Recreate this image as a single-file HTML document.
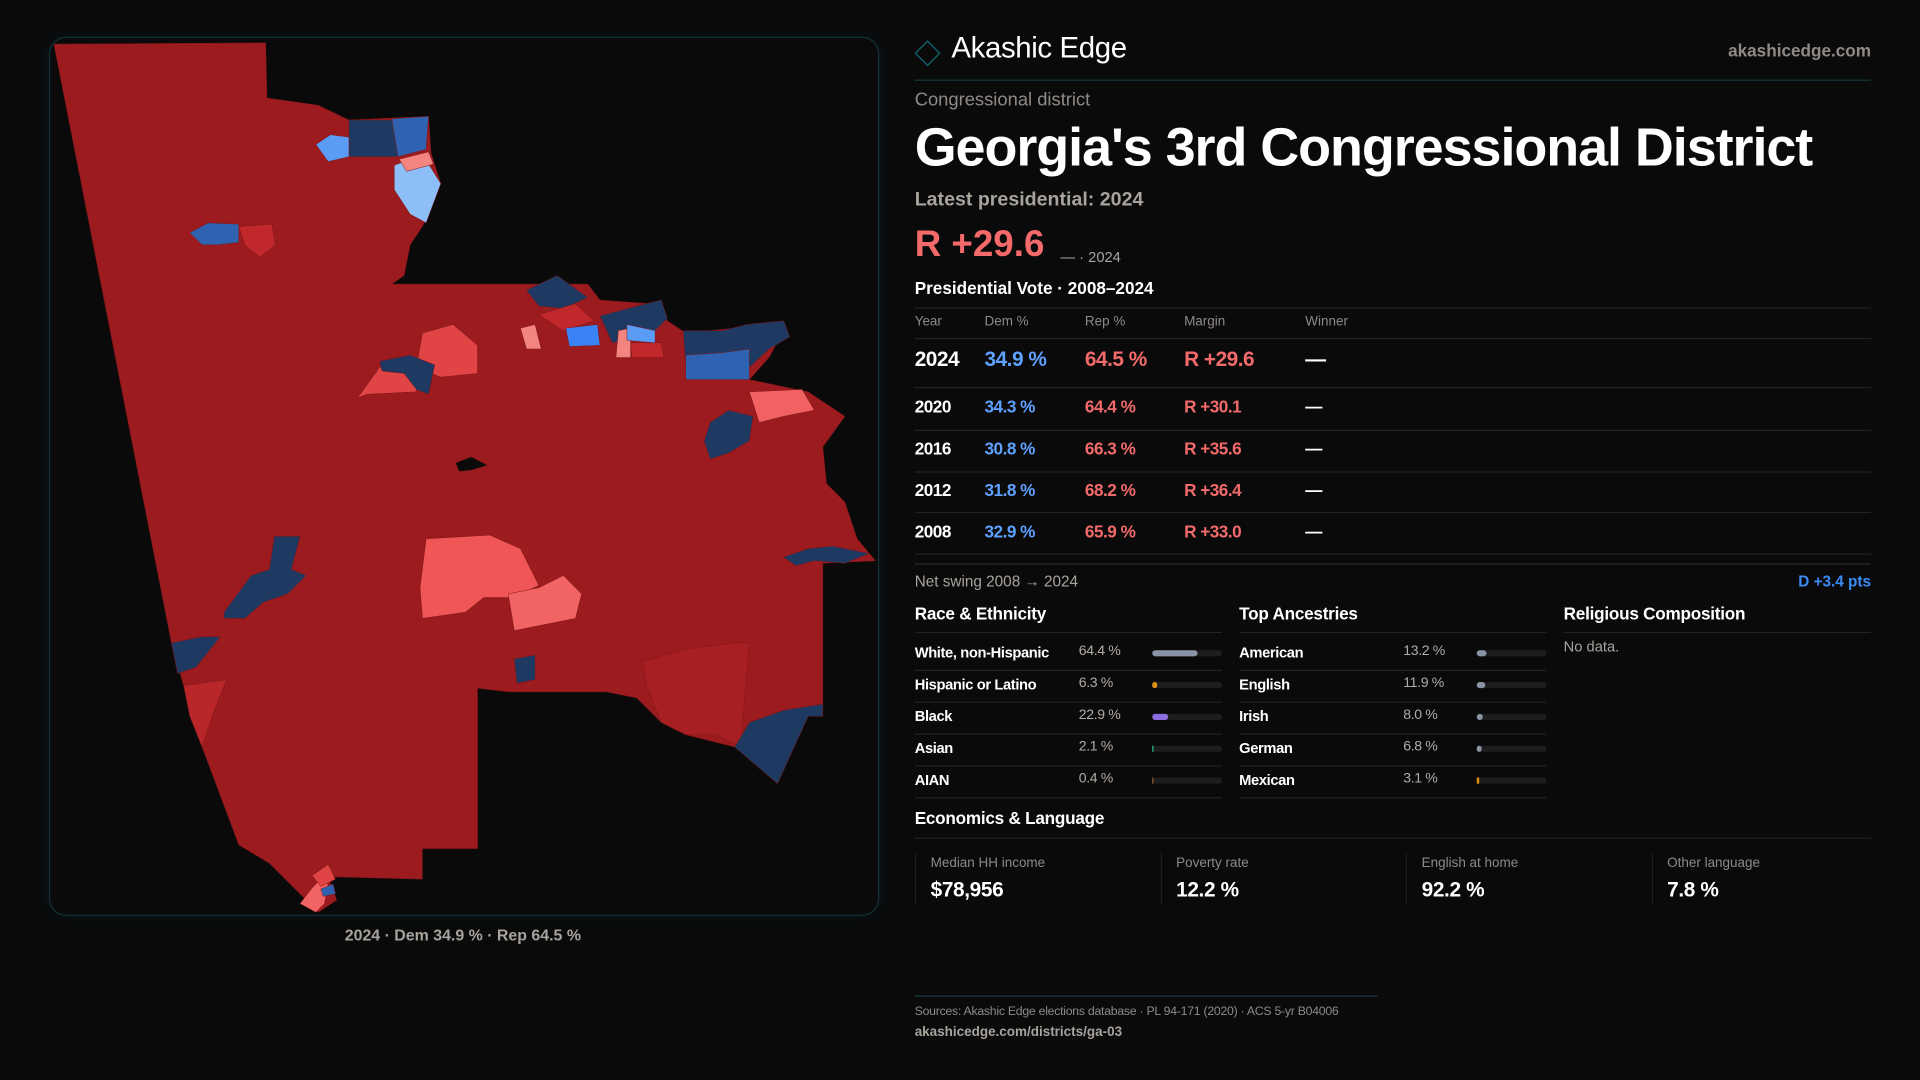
<!DOCTYPE html>
<html><head><meta charset="utf-8">
<style>
html,body{margin:0;padding:0;background:#0a0a0b;width:1920px;height:1080px;overflow:hidden}
#stage{position:absolute;left:0;top:0;width:1568px;height:882px;transform:scale(1.22449);transform-origin:0 0;font-family:"Liberation Sans",sans-serif;color:#fff}
.abs{position:absolute;white-space:nowrap}
.line{position:absolute;height:1px;background:#222226}
.muted{color:#8f8a86}
.blue{color:#5ea1ff}.red{color:#f26a6a}
.hdr{font-size:11px;color:#8f8a86}
.sec{font-size:14px;font-weight:bold;letter-spacing:-0.2px}
.rowlbl{font-size:12px;font-weight:bold;letter-spacing:-0.3px}
.rowpct{font-size:11.5px;color:#b3aca6;letter-spacing:-0.3px}
.track{position:absolute;height:5px;border-radius:3px;background:#1d1d20}
.fill{position:absolute;left:0;top:0;height:5px;border-radius:3px}
</style></head>
<body>
<div id="stage">

<div class="abs" style="left:40px;top:30px;width:676px;height:716px;border:1px solid #12333a;border-radius:14px;box-shadow:0 0 12px rgba(20,90,100,0.15)"></div>
<svg style="position:absolute;left:0;top:0" width="1568" height="882" viewBox="0 0 1568 882">
<g stroke="#7e1518" stroke-width="0.4">
<polygon fill="#9b1b1f" points="44,36 217,35 218,80 260,86 285,98 350,95 352,125 360,150 345,185 335,200 330,225 320,232 480,232 490,245 530,248 545,262 560,272 600,268 640,270 628,292 612,310 660,320 690,340 672,365 675,395 690,410 700,440 715,458 672,460 672,585 660,580 635,640 600,610 560,600 540,590 520,570 495,565 415,565 390,562 390,693 345,693 345,718 268,716 275,735 260,745 245,730 220,705 195,690 180,650 165,610 150,560 140,525"/>
<polygon fill="#1e3a63" points="285,98 322,98 325,128 285,128"/>
<polygon fill="#2f62b0" points="320,97 350,95 348,122 325,128"/>
<polygon fill="#8dbef7" points="322,135 345,126 360,150 348,182 335,175 322,155"/>
<polygon fill="#f4847f" points="326,130 350,124 354,134 332,140"/>
<polygon fill="#5a9cf5" points="258,118 270,110 285,112 285,128 268,132"/>
<polygon fill="#2f62b0" points="155,190 170,182 195,183 195,198 178,200 165,200"/>
<polygon fill="#c0282b" points="195,185 222,183 225,200 212,210 200,200"/>
<polygon fill="#1e3a63" points="430,237 455,225 480,243 460,252 440,250"/>
<polygon fill="#c0282b" points="440,257 470,248 485,262 460,270"/>
<polygon fill="#3b82f6" points="462,268 488,265 490,282 465,283"/>
<polygon fill="#1e3a63" points="490,258 520,250 540,245 545,260 530,275 500,280"/>
<polygon fill="#f4847f" points="425,268 437,265 442,285 430,285"/>
<polygon fill="#f4847f" points="505,270 515,268 515,292 503,292"/>
<polygon fill="#5a9cf5" points="512,265 535,270 535,280 512,278"/>
<polygon fill="#c0282b" points="515,280 540,280 542,292 516,292"/>
<polygon fill="#1e3a63" points="558,270 590,270 610,265 640,262 645,275 628,285 612,300 560,300"/>
<polygon fill="#2f62b0" points="560,290 590,288 612,285 612,310 560,310"/>
<polygon fill="#e04444" points="345,272 370,265 390,282 390,305 360,308 340,300"/>
<polygon fill="#e04444" points="292,325 310,300 340,298 340,320 300,322"/>
<polygon fill="#1e3a63" points="310,295 335,290 355,298 350,322 340,318 330,305 312,303"/>
<polygon fill="#f26262" points="612,320 655,318 665,335 640,340 620,345"/>
<polygon fill="#1e3a63" points="580,345 595,335 615,340 612,360 595,370 580,375 575,360"/>
<polygon fill="#0a0a0b" points="372,378 385,373 398,380 385,384 375,385"/>
<polygon fill="#1e3a63" points="640,455 660,448 680,446 710,452 690,460 665,458 650,462"/>
<polygon fill="#1e3a63" points="183,500 205,470 220,465 224,438 245,438 238,465 250,470 235,485 215,492 200,505 183,505"/>
<polygon fill="#1e3a63" points="140,525 165,520 180,520 160,545 145,550"/>
<polygon fill="#f05656" points="348,440 400,437 425,448 440,478 420,488 395,488 380,500 345,505 343,480"/>
<polygon fill="#f26464" points="415,485 440,480 460,470 475,485 470,505 445,510 420,515"/>
<polygon fill="#1e3a63" points="420,538 437,535 437,555 422,558"/>
<polygon fill="#a71f22" points="525,540 560,530 600,525 612,525 605,610 585,600 560,600 540,590 528,560"/>
<polygon fill="#1e3a63" points="600,610 635,640 660,585 672,585 672,575 640,580 612,590"/>
<polygon fill="#b82629" points="150,560 185,555 175,580 165,610 155,585"/>
<polygon fill="#f26464" points="245,738 255,725 262,718 268,722 265,738 258,745"/>
<polygon fill="#e04444" points="255,715 268,706 274,718 262,724"/>
<polygon fill="#2f62b0" points="262,726 272,722 274,730 264,732"/>
</g>
</svg>
<div class="abs muted" style="left:378px;top:756px;transform:translateX(-50%);font-size:13px;font-weight:bold;color:#a9a39d">2024 · Dem 34.9 % · Rep 64.5 %</div>

<div class="abs" style="left:750px;top:36px;width:13px;height:13px;border:1.5px solid #0f6a73;transform:rotate(45deg)"></div>
<div class="abs" style="left:777px;top:26px;font-size:24px;letter-spacing:-0.3px">Akashic Edge</div>
<div class="abs" style="right:40px;top:33px;font-size:14px;font-weight:bold;color:#8f8a86">akashicedge.com</div>
<div class="line" style="left:747px;top:65px;width:781px;background:#123a3e"></div>

<div class="abs muted" style="left:747px;top:73px;font-size:15px">Congressional district</div>
<div class="abs" style="left:747px;top:96px;font-size:44px;font-weight:bold;letter-spacing:-0.85px">Georgia's 3rd Congressional District</div>
<div class="abs" style="left:747px;top:155px;font-size:16px;font-weight:bold;color:#a9a39d">Latest presidential: 2024</div>
<div class="abs red" style="left:747px;top:183px;font-size:30px;font-weight:bold;color:#f46a6a">R +29.6</div>
<div class="abs muted" style="left:866px;top:203px;font-size:12px;color:#a9a39d">— · 2024</div>
<div class="abs" style="left:747px;top:227px;font-size:14px;font-weight:bold">Presidential Vote · 2008–2024</div>
<div class="line" style="left:747px;top:251px;width:781px"></div>
<div id="vtable"></div>
<div class="line" style="left:747px;top:460px;width:781px;background:#2a2a2e"></div>

<div class="abs" style="left:747px;top:468px;font-size:12.5px;color:#a9a39d">Net swing 2008 → 2024</div>
<div class="abs blue" style="right:40px;top:468px;font-size:12.5px;font-weight:bold;color:#3b8cf6">D +3.4 pts</div>

<div class="abs sec" style="left:747px;top:493px">Race &amp; Ethnicity</div>
<div class="abs sec" style="left:1012px;top:493px">Top Ancestries</div>
<div class="abs sec" style="left:1277px;top:493px">Religious Composition</div>
<div class="line" style="left:747px;top:516px;width:251px"></div>
<div class="line" style="left:1012px;top:516px;width:251px"></div>
<div class="line" style="left:1277px;top:516px;width:251px"></div>
<div class="abs" style="left:1277px;top:521px;font-size:12px;color:#a9a39d">No data.</div>
<div id="demo"></div>

<div class="abs sec" style="left:747px;top:660px">Economics &amp; Language</div>
<div class="line" style="left:747px;top:684px;width:781px"></div>
<div id="cards"></div>

<div class="line" style="left:747px;top:813px;width:378px;background:#123a3e"></div>
<div class="abs" style="left:747px;top:821px;font-size:10px;color:#8f8a86;letter-spacing:-0.2px">Sources: Akashic Edge elections database · PL 94-171 (2020) · ACS 5-yr B04006</div>
<div class="abs" style="left:747px;top:837px;font-size:11px;color:#a9a39d;font-weight:bold">akashicedge.com/districts/ga-03</div>
</div>

<script>
var years=["2024","2020","2016","2012","2008"];
var demPct=[34.9,34.3,30.8,31.8,32.9];
var repPct=[64.5,64.4,66.3,68.2,65.9];
var margins=["R +29.6","R +30.1","R +35.6","R +36.4","R +33.0"];
var raceLabels=["White, non-Hispanic","Hispanic or Latino","Black","Asian","AIAN"];
var raceValues=[64.4,6.3,22.9,2.1,0.4];
var raceColors=["#8893a6","#e0900f","#8b6fe0","#22c08a","#9a5a2a"];
var ancLabels=["American","English","Irish","German","Mexican"];
var ancValues=[13.2,11.9,8.0,6.8,3.1];
var ancColors=["#8893a6","#8893a6","#8893a6","#8893a6","#e0900f"];
var econLabels=["Median HH income","Poverty rate","English at home","Other language"];
var econValues=["$78,956","12.2 %","92.2 %","7.8 %"];

var st=document.getElementById('stage');
function mk(cls,style,text,parent){var d=document.createElement('div');d.className=cls;d.setAttribute('style',style);if(text!=null)d.textContent=text;(parent||st).appendChild(d);return d;}

var cols=[747,804,886,967,1066];
var hd=["Year","Dem %","Rep %","Margin","Winner"];
hd.forEach(function(h,i){var e=mk('abs hdr','left:'+cols[i]+'px;top:257px',h);

});
var ln=mk('line','left:747px;top:276px;width:781px');


var rowY=[295,333,367,401,435];
var ruleY=[316,351,385,418,452];
years.forEach(function(y,i){
 var big=i===0, fs=big?17:14, top=rowY[i]-(big?11:9);
 var vals=[y,demPct[i].toFixed(1)+' %',repPct[i].toFixed(1)+' %',margins[i],'—'];
 var colors=['#fff','#5ea1ff','#f26a6a','#f26a6a','#fff'];
 vals.forEach(function(v,j){var e=mk('abs','left:'+cols[j]+'px;top:'+top+'px;font-size:'+fs+'px;font-weight:bold;letter-spacing:-0.4px;color:'+colors[j],v);
 
 });
 var l=mk('line','left:747px;top:'+ruleY[i]+'px;width:781px');
 
 
});

function group(x,labels,values,colors,prefix){
 labels.forEach(function(lb,i){
  var y=533+i*26;
  var a=mk('abs rowlbl','left:'+x+'px;top:'+(y-7)+'px',lb);
  
  
  var b=mk('abs rowpct','left:'+(x+134)+'px;top:'+(y-7)+'px',values[i].toFixed(1)+' %');
  
  
  var t=mk('track','left:'+(x+194)+'px;top:'+(y-2)+'px;width:57px');
  
  
  var w=Math.max(1,57*values[i]/100);
  var f=mk('fill','width:'+w+'px;background:'+colors[i]+(w<3?';border-radius:0':''),null,t);
  
  
  var r=mk('line','left:'+x+'px;top:'+(y+14)+'px;width:251px');
  
  
 });
}
group(747,raceLabels,raceValues,raceColors,'race');
group(1012,ancLabels,ancValues,ancColors,'ancestry');

econLabels.forEach(function(lb,i){
 var x=747+i*200.5;
 var c=mk('abs','left:'+x+'px;top:697px;width:1px;height:42px;background:#1e1e22');
 
 
 var l=mk('abs','left:'+(x+13)+'px;top:699px;font-size:11px;color:#8f8a86',lb);
 
 
 var v=mk('abs','left:'+(x+13)+'px;top:717px;font-size:17px;font-weight:bold;letter-spacing:-0.3px',econValues[i]);
 
 
});
</script>
</body></html>
